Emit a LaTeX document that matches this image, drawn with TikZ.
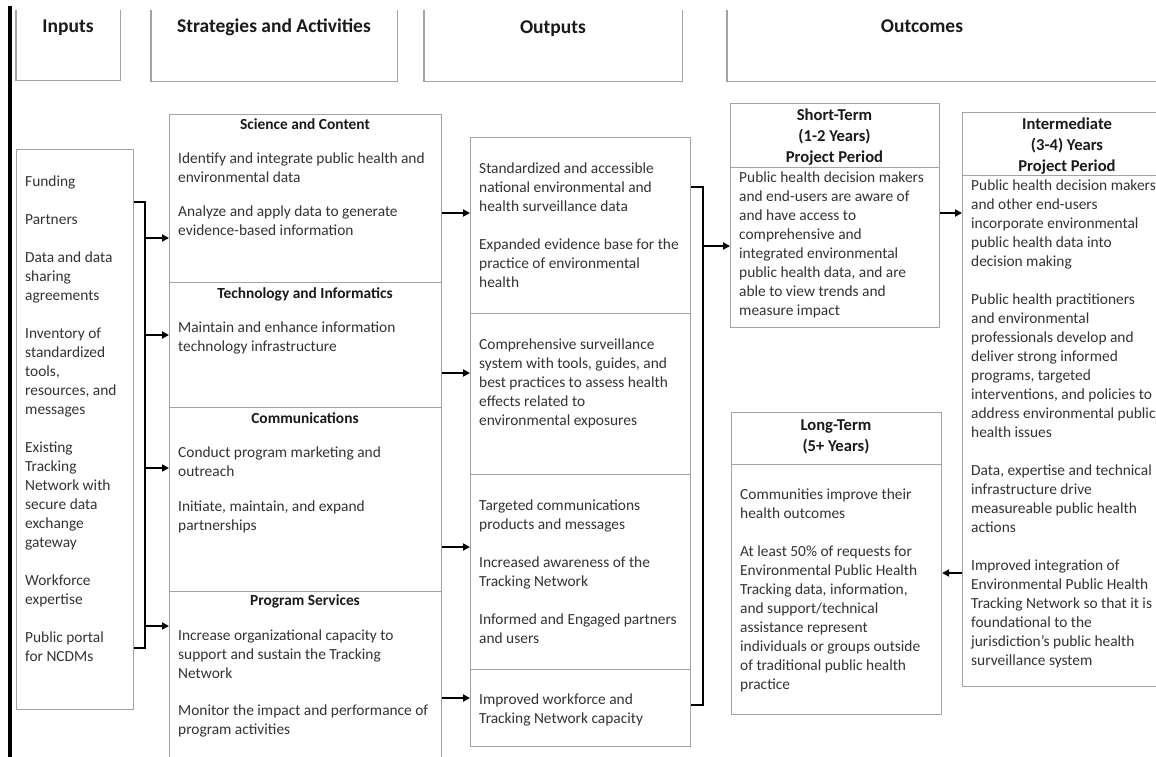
\documentclass[tikz,border=0pt]{standalone}
\usepackage{fontspec}
\setmainfont{Carlito}
\usetikzlibrary{arrows.meta}
\definecolor{boxc}{HTML}{A3A3A3}
\definecolor{txtc}{HTML}{333333}
\definecolor{ttlc}{HTML}{1A1A1A}
\newcommand{\mybody}{\fontsize{15.4}{19}\selectfont}
\newcommand{\mytb}[1]{\parbox[t]{400pt}{\raggedright\mybody #1}}
\newcommand{\myttl}[1]{\parbox[t]{220pt}{\centering\bfseries\fontsize{16.6}{21}\selectfont #1}}
\begin{document}
\begin{tikzpicture}[x=1pt,y=-1pt,
  box/.style={draw=boxc, line width=1.1pt, inner sep=0pt, anchor=north west},
  hbox/.style={inner sep=0pt, anchor=north west},
  boxline/.style={draw=boxc, line width=1.1pt},
  txt/.style={anchor=base west, inner sep=0pt, text=txtc},
  ttl/.style={anchor=base, inner sep=0pt, text=ttlc},
  sect/.style={anchor=base, inner sep=0pt, text=ttlc, font=\bfseries\fontsize{15.4}{18}\selectfont},
  hdr/.style={anchor=base, inner sep=0pt, text=ttlc, font=\bfseries\fontsize{19.5}{22}\selectfont},
  arr/.style={line width=1.8pt, -{Triangle[length=7pt,width=7pt]}},
  brk/.style={line width=2.6pt}]
\useasboundingbox (0,0) rectangle (1156,757);
\fill[white] (0,0) rectangle (1156,757);

% left black bar
\draw[line width=4pt] (10,6) -- (10,757);

% header boxes (open at the top)
\node[hbox, minimum width=104pt, minimum height=70pt] (hIn) at (16,10) {};
\node[hbox, minimum width=246pt, minimum height=71pt] (hSt) at (151,10) {};
\node[hbox, minimum width=258pt, minimum height=71pt] (hOp) at (424,10) {};
\node[hbox, minimum width=460pt, minimum height=71pt] (hOc) at (727,10) {};
\foreach \h in {hIn,hSt,hOp,hOc}
  \draw[boxline] (\h.north west) -- (\h.south west) -- (\h.south east) -- (\h.north east);
\node[hdr] (tIn) at (68,33) {Inputs};
\node[hdr] (tSt) at (274,33) {Strategies and Activities};
\node[hdr] (tOp) at (553,34) {Outputs};
\node[hdr] (tOc) at (922,33) {Outcomes};

% inputs
\node[box, minimum width=117pt, minimum height=560pt] (inputs) at (16,149) {};
\node[txt] (inT) at (25,186) {\mytb{Funding\\[19pt]Partners\\[19pt]Data and data\\sharing\\agreements\\[19pt]Inventory of\\standardized\\tools,\\resources, and\\messages\\[19pt]Existing\\Tracking\\Network with\\secure data\\exchange\\gateway\\[19pt]Workforce\\expertise\\[19pt]Public portal\\for NCDMs}};

% strategies
\node[box, minimum width=272pt, minimum height=168pt] (sci) at (169,114) {};
\node[box, minimum width=272pt, minimum height=125pt] (tech) at (169,282) {};
\node[box, minimum width=272pt, minimum height=184pt] (comm) at (169,407) {};
\node[box, minimum width=272pt, minimum height=190pt] (prog) at (169,591) {};
\node[sect] (sciT) at (305,130) {Science and Content};
\node[txt] (sciB) at (178,163) {\mytb{Identify and integrate public health and\\environmental data\\[16pt]Analyze and apply data to generate\\evidence-based information}};
\node[sect] (techT) at (305,298) {Technology and Informatics};
\node[txt] (techB) at (178,332) {\mytb{Maintain and enhance information\\technology infrastructure}};
\node[sect] (commT) at (305,423) {Communications};
\node[txt] (commB) at (178,457) {\mytb{Conduct program marketing and\\outreach\\[16pt]Initiate, maintain, and expand\\partnerships}};
\node[sect] (progT) at (305,605) {Program Services};
\node[txt] (progB) at (178,640) {\mytb{Increase organizational capacity to\\support and sustain the Tracking\\Network\\[18pt]Monitor the impact and performance of\\program activities}};

% outputs
\node[box, minimum width=220pt, minimum height=176pt] (out1) at (470,137) {};
\node[box, minimum width=220pt, minimum height=161pt] (out2) at (470,313) {};
\node[box, minimum width=220pt, minimum height=195pt] (out3) at (470,474) {};
\node[box, minimum width=220pt, minimum height=77pt] (out4) at (470,669) {};
\node[txt] (out1B) at (479,173) {\mytb{Standardized and accessible\\national environmental and\\health surveillance data\\[19pt]Expanded evidence base for the\\practice of environmental\\health}};
\node[txt] (out2B) at (479,349) {\mytb{Comprehensive surveillance\\system with tools, guides, and\\best practices to assess health\\effects related to\\environmental exposures}};
\node[txt] (out3B) at (479,510) {\mytb{Targeted communications\\products and messages\\[19pt]Increased awareness of the\\Tracking Network\\[19pt]Informed and Engaged partners\\and users}};
\node[txt] (out4B) at (479,704) {\mytb{Improved workforce and\\Tracking Network capacity}};

% short-term
\node[box, minimum width=209pt, minimum height=64pt] (shortH) at (730,103) {};
\node[box, minimum width=209pt, minimum height=160pt] (shortB) at (730,167) {};
\node[ttl] (shortT) at (834.5,121) {\myttl{Short-Term\\(1-2 Years)\\Project Period}};
\node[txt] (shortX) at (739,182) {\mytb{Public health decision makers\\and end-users are aware of\\and have access to\\comprehensive and\\integrated environmental\\public health data, and are\\able to view trends and\\measure impact}};

% intermediate
\node[box, minimum width=210pt, minimum height=63pt] (interH) at (962,112) {};
\node[box, minimum width=210pt, minimum height=511pt] (interB) at (962,175) {};
\node[ttl] (interT) at (1067,129) {\myttl{Intermediate\\(3-4) Years\\Project Period}};
\node[txt] (interX) at (971,190) {\mytb{Public health decision makers\\and other end-users\\incorporate environmental\\public health data into\\decision making\\[19pt]Public health practitioners\\and environmental\\professionals develop and\\deliver strong informed\\programs, targeted\\interventions, and policies to\\address environmental public\\health issues\\[19pt]Data, expertise and technical\\infrastructure drive\\measureable public health\\actions\\[19pt]Improved integration of\\Environmental Public Health\\Tracking Network so that it is\\foundational to the\\jurisdiction’s public health\\surveillance system}};

% long-term
\node[box, minimum width=210pt, minimum height=52pt] (longH) at (731,412) {};
\node[box, minimum width=210pt, minimum height=250pt] (longB) at (731,464) {};
\node[ttl] (longT) at (836,430) {\myttl{Long-Term\\(5+ Years)}};
\node[txt] (longX) at (740,499) {\mytb{Communities improve their\\health outcomes\\[19pt]At least 50\% of requests for\\Environmental Public Health\\Tracking data, information,\\and support/technical\\assistance represent\\individuals or groups outside\\of traditional public health\\practice}};

% bracket inputs -> strategies
\coordinate (b1t) at (145,202);
\coordinate (b1b) at (145,648);
\draw[brk] (inputs.east |- b1t) -- (b1t) -- (b1b) -- (inputs.east |- b1b);
\draw[arr] (b1t |- 0,238) -- (sci.west |- 0,238);
\draw[arr] (b1t |- 0,335) -- (tech.west |- 0,335);
\draw[arr] (b1t |- 0,468) -- (comm.west |- 0,468);
\draw[arr] (b1t |- 0,626) -- (prog.west |- 0,626);

% strategies -> outputs
\draw[arr] (sci.east |- 0,213) -- (out1.west |- 0,213);
\draw[arr] (tech.east |- 0,373) -- (out2.west |- 0,373);
\draw[arr] (comm.east |- 0,547) -- (out3.west |- 0,547);
\draw[arr] (prog.east |- 0,698) -- (out4.west |- 0,698);

% bracket outputs -> short-term
\coordinate (b2t) at (703,187);
\coordinate (b2b) at (703,705);
\draw[brk] (out1.east |- b2t) -- (b2t) -- (b2b) -- (out4.east |- b2b);
\draw[arr] (b2t |- 0,246) -- (shortB.west |- 0,246);

% outcomes
\draw[arr] (shortB.east |- 0,213) -- (interB.west |- 0,213);
\draw[arr] (interB.west |- 0,573) -- (longB.east |- 0,573);
\end{tikzpicture}
\end{document}
